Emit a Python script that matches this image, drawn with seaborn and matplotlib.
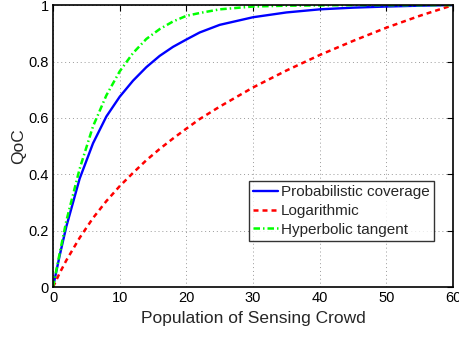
import numpy as np
import pandas as pd
import seaborn as sns
import matplotlib.pyplot as plt

# Values
population = [0, 1, 2, 4, 6, 8, 10, 12, 14, 16, 18, 20, 22, 25, 30, 35, 40, 45, 50, 55, 60]
prob_coverage = [0, 0.112, 0.215, 0.385, 0.51, 0.605, 0.675, 0.732, 0.78, 0.82, 0.852,
                 0.878, 0.903, 0.93, 0.957, 0.974, 0.985, 0.991, 0.995, 0.998, 1.0]
logarithmic = [0, 0.05, 0.095, 0.175, 0.245, 0.305, 0.358, 0.405, 0.45, 0.49, 0.527,
               0.562, 0.596, 0.64, 0.708, 0.768, 0.823, 0.873, 0.92, 0.962, 1.0]
hyperbolic = [0, 0.12, 0.235, 0.42, 0.57, 0.68, 0.765, 0.83, 0.88, 0.915, 0.942,
              0.962, 0.972, 0.985, 0.995, 0.998, 0.999, 1.0, 1.0, 1.0, 1.0]

x_ticks = [0, 10, 20, 30, 40, 50, 60]
y_ticks = [0, 0.2, 0.4, 0.6, 0.8, 1.0]
y_labels = ["0", "0.2", "0.4", "0.6", "0.8", "1"]

sns.set_style("white")
plt.rcParams['font.family'] = ['Liberation Sans', 'DejaVu Sans']

df = pd.DataFrame({'x': population, 'prob': prob_coverage,
                   'log': logarithmic, 'tanh': hyperbolic})

fig, ax = plt.subplots(figsize=(4.59, 3.41), dpi=100)
fig.subplots_adjust(left=0.1155, right=0.987, top=0.985, bottom=0.158)

sns.lineplot(data=df, x='x', y='prob', ax=ax, color='#0000ff', linewidth=1.7,
             label='Probabilistic coverage')
sns.lineplot(data=df, x='x', y='log', ax=ax, color='#ff0000', linewidth=1.8,
             dashes=(2.0, 1.6), label='Logarithmic')
sns.lineplot(data=df, x='x', y='tanh', ax=ax, color='#00ff00', linewidth=1.8,
             dashes=(2.6, 1.2, 0.6, 1.2), label='Hyperbolic tangent')

ax.set_xlim(0, 60)
ax.set_ylim(0, 1)
ax.set_xticks(x_ticks)
ax.set_yticks(y_ticks)
ax.set_yticklabels(y_labels)
ax.set_xlabel('Population of Sensing Crowd', fontsize=12.5, labelpad=4)
ax.set_ylabel('QoC', fontsize=12.5, labelpad=2)
ax.tick_params(direction='in', length=4, width=0.8, labelsize=10.5,
               top=True, right=True, pad=3, colors='black')
ax.grid(True, linestyle=(0, (1, 3)), color='#999999', linewidth=0.7)
for s in ax.spines.values():
    s.set_color('black')
    s.set_linewidth(1.2)

leg = ax.legend(loc='lower right', bbox_to_anchor=(0.953, 0.163), fontsize=11,
                frameon=True, fancybox=False, borderaxespad=0, handlelength=1.6,
                handletextpad=0.2, borderpad=0.3, labelspacing=0.3)
leg.get_frame().set_edgecolor('black')
leg.get_frame().set_linewidth(1.0)

fig.savefig('out.png', dpi=100)
